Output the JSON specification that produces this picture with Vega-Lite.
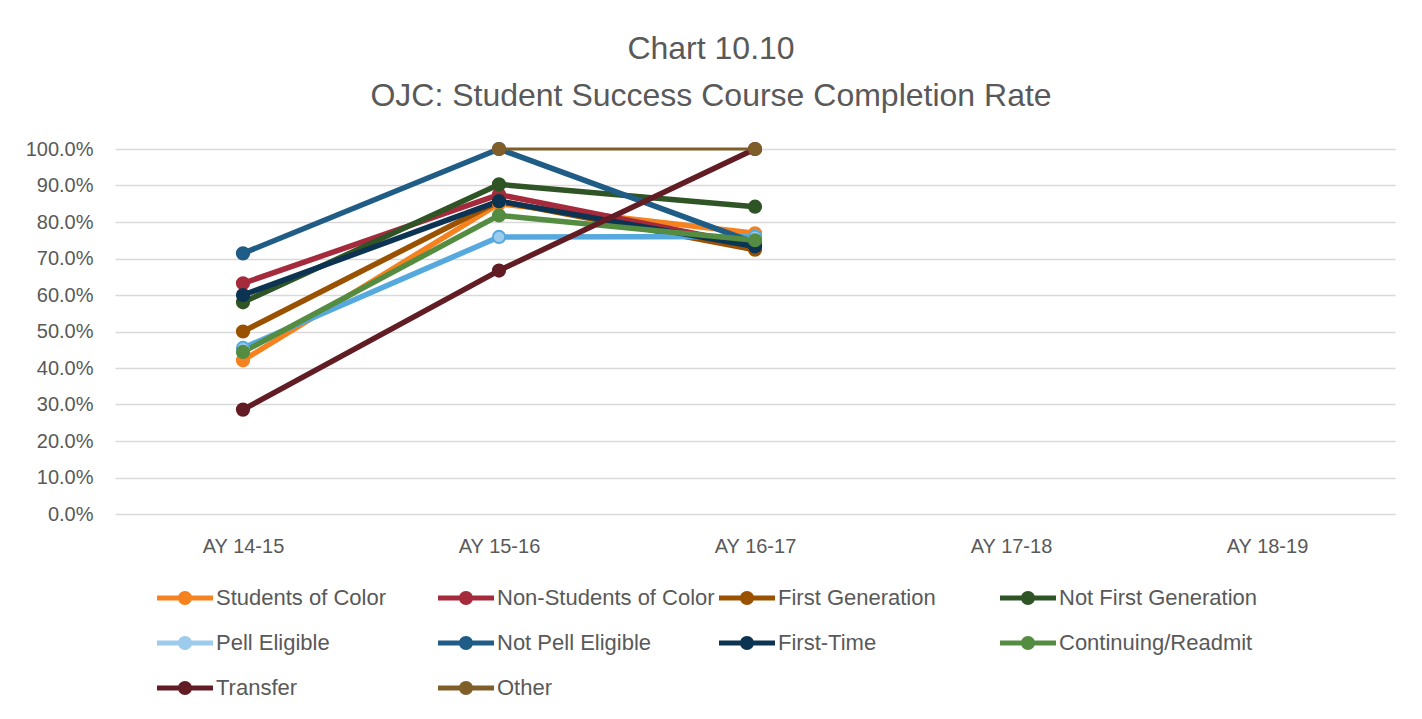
{
  "$schema": "https://vega.github.io/schema/vega-lite/v6.json",
  "autosize": {"type": "none"},
  "width": 1280,
  "height": 365,
  "padding": {"left": 115, "top": 149, "right": 27, "bottom": 205},
  "background": "white",
  "config": {"view": {"stroke": null}, "font": "Liberation Sans"},
  "title": {
    "text": ["Chart 10.10", "OJC: Student Success Course Completion Rate"],
    "fontSize": 32, "font": "Liberation Sans", "fontWeight": "normal", "color": "#595959",
    "lineHeight": 47, "anchor": "middle", "dx": -44, "offset": 26
  },
  "data": {"values": [
    {"series": "Students of Color", "year": "AY 14-15", "rate": 0.421},
    {"series": "Students of Color", "year": "AY 15-16", "rate": 0.85},
    {"series": "Students of Color", "year": "AY 16-17", "rate": 0.769},
    {"series": "Non-Students of Color", "year": "AY 14-15", "rate": 0.632},
    {"series": "Non-Students of Color", "year": "AY 15-16", "rate": 0.875},
    {"series": "Non-Students of Color", "year": "AY 16-17", "rate": 0.736},
    {"series": "First Generation", "year": "AY 14-15", "rate": 0.5},
    {"series": "First Generation", "year": "AY 15-16", "rate": 0.857},
    {"series": "First Generation", "year": "AY 16-17", "rate": 0.724},
    {"series": "Not First Generation", "year": "AY 14-15", "rate": 0.58},
    {"series": "Not First Generation", "year": "AY 15-16", "rate": 0.903},
    {"series": "Not First Generation", "year": "AY 16-17", "rate": 0.842},
    {"series": "Pell Eligible", "year": "AY 14-15", "rate": 0.455},
    {"series": "Pell Eligible", "year": "AY 15-16", "rate": 0.759},
    {"series": "Pell Eligible", "year": "AY 16-17", "rate": 0.76},
    {"series": "Not Pell Eligible", "year": "AY 14-15", "rate": 0.714},
    {"series": "Not Pell Eligible", "year": "AY 15-16", "rate": 1.0},
    {"series": "Not Pell Eligible", "year": "AY 16-17", "rate": 0.743},
    {"series": "First-Time", "year": "AY 14-15", "rate": 0.6},
    {"series": "First-Time", "year": "AY 15-16", "rate": 0.857},
    {"series": "First-Time", "year": "AY 16-17", "rate": 0.733},
    {"series": "Continuing/Readmit", "year": "AY 14-15", "rate": 0.444},
    {"series": "Continuing/Readmit", "year": "AY 15-16", "rate": 0.818},
    {"series": "Continuing/Readmit", "year": "AY 16-17", "rate": 0.75},
    {"series": "Transfer", "year": "AY 14-15", "rate": 0.286},
    {"series": "Transfer", "year": "AY 15-16", "rate": 0.667},
    {"series": "Transfer", "year": "AY 16-17", "rate": 1.0},
    {"series": "Other", "year": "AY 15-16", "rate": 1.0},
    {"series": "Other", "year": "AY 16-17", "rate": 1.0}
  ]},
  "encoding": {
    "x": {
      "field": "year", "type": "nominal",
      "scale": {"type": "point", "padding": 0.5, "domain": ["AY 14-15", "AY 15-16", "AY 16-17", "AY 17-18", "AY 18-19"]},
      "axis": {"title": null, "labelAngle": 0, "domain": false, "ticks": false, "grid": false,
               "labelFontSize": 20, "labelColor": "#595959", "labelFont": "Liberation Sans", "labelPadding": 22}
    },
    "y": {
      "field": "rate", "type": "quantitative",
      "scale": {"domain": [0, 1], "nice": false},
      "axis": {"title": null, "format": ".1%", "values": [0, 0.1, 0.2, 0.3, 0.4, 0.5, 0.6, 0.7, 0.8, 0.9, 1.0],
               "domain": false, "ticks": false, "grid": true, "gridColor": "#D9D9D9", "gridWidth": 1.5,
               "labelFontSize": 20, "labelColor": "#595959", "labelFont": "Liberation Sans", "labelPadding": 22}
    },
    "color": {
      "field": "series", "type": "nominal",
      "scale": {
        "domain": ["Students of Color", "Non-Students of Color", "First Generation", "Not First Generation", "Pell Eligible", "Not Pell Eligible", "First-Time", "Continuing/Readmit", "Transfer", "Other"],
        "range": ["#F5821F", "#A52A3C", "#9A5200", "#2F5426", "#56A9DE", "#1F5D86", "#0D3352", "#548D42", "#621C24", "#7F5E2A"]
      },
      "legend": {
        "orient": "none", "legendX": 42, "legendY": 421, "direction": "horizontal", "columns": 4,
        "gridAlign": "all", "columnPadding": 4, "rowPadding": 6, "title": null,
        "labelFontSize": 22, "labelColor": "#595959", "labelFont": "Liberation Sans", "labelOffset": 3,
        "labelLimit": 400,
        "symbolType": "M-1,-0.09H1V0.09H-1Z M0.25,0A0.25,0.25,0,1,1,-0.25,0A0.25,0.25,0,1,1,0.25,0Z",
        "symbolSize": 3136, "symbolStrokeWidth": 0, "symbolOpacity": 1,
        "encode": {"symbols": {"update": {"fill": {"scale": "color", "field": "value"}, "stroke": {"value": "transparent"}, "opacity": {"value": 1}}}}
      }
    }
  },
  "layer": [
    {
      "mark": {"type": "line", "strokeCap": "round", "strokeJoin": "round"},
      "encoding": {
        "strokeWidth": {"condition": {"test": "datum.series === 'Other'", "value": 3}, "value": 5.5}
      }
    },
    {
      "mark": {"type": "point", "filled": false, "size": 150, "strokeWidth": 2, "opacity": 1},
      "encoding": {
        "fill": {
          "field": "series", "type": "nominal", "legend": null,
          "scale": {
            "domain": ["Students of Color", "Non-Students of Color", "First Generation", "Not First Generation", "Pell Eligible", "Not Pell Eligible", "First-Time", "Continuing/Readmit", "Transfer", "Other"],
            "range": ["#F5821F", "#A52A3C", "#9A5200", "#2F5426", "#9CCBEB", "#1F5D86", "#0D3352", "#548D42", "#621C24", "#7F5E2A"]
          }
        }
      }
    }
  ]
}
